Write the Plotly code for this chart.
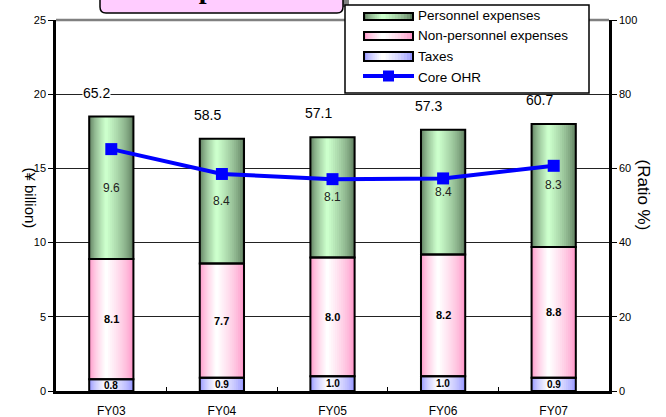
import numpy as np
import plotly.graph_objects as go

# ---------------- data ----------------
categories = ["FY03", "FY04", "FY05", "FY06", "FY07"]
taxes = [0.8, 0.9, 1.0, 1.0, 0.9]
non_personnel = [8.1, 7.7, 8.0, 8.2, 8.8]
personnel = [9.6, 8.4, 8.1, 8.4, 8.3]
core_ohr = [65.2, 58.5, 57.1, 57.3, 60.7]
ohr_labels = ["65.2", "58.5", "57.1", "57.3", "60.7"]
legend_labels = ["Personnel expenses", "Non-personnel expenses", "Taxes", "Core OHR"]

W, H = 666, 417
L, R, T, B = 56, 57, 20, 26
PW, PH = W - L - R, H - T - B
FONT = "Arial, Liberation Sans, sans-serif"


def px(x):
    return (x - L) / PW


def py(y):
    return (H - B - y) / PH


def mix(c1, c2, f):
    return "rgb(%d,%d,%d)" % tuple(round(a + (b - a) * f) for a, b in zip(c1, c2))


tx = np.array(taxes)
npers = np.array(non_personnel)
pers = np.array(personnel)
base_np = tx
base_p = tx + npers
totals = tx + npers + pers

segments = [
    # values, base, edge colour, centre colour, label font
    (tx, np.zeros_like(tx), (150, 150, 255), (255, 255, 255), dict(size=10, color="black", family=FONT, weight="bold")),
    (npers, base_np, (255, 150, 200), (255, 255, 255), dict(size=11, color="black", family=FONT, weight="bold")),
    (pers, base_p, (95, 125, 95), (204, 255, 204), dict(size=12, color="#222", family=FONT)),
]

fig = go.Figure()
BW = 0.40
N = 14
for vals, base, edge, centre, tf in segments:
    for k in range(N):
        frac = k / N
        w = BW * (1 - frac)
        off = -BW / 2 + 0.38 * BW * frac
        col = mix(edge, centre, (frac / (1 - 1 / N)) ** 0.7 if k else 0)
        fig.add_trace(go.Bar(
            x=categories, y=vals, base=base, width=w, offset=off,
            marker=dict(color=col, line=dict(width=0)),
            showlegend=False, hoverinfo="skip",
        ))

for vals, base, edge, centre, tf in segments:
    fig.add_trace(go.Bar(
        x=categories, y=vals, base=base, width=BW, offset=-BW / 2,
        marker=dict(color="rgba(0,0,0,0)", line=dict(width=2, color="black")),
        showlegend=False, hoverinfo="skip",
    ))

fig.add_trace(go.Scatter(
    x=categories, y=core_ohr, yaxis="y2", mode="lines+markers",
    line=dict(color="#0000FF", width=4),
    marker=dict(symbol="square", size=12, color="#0000FF"),
    showlegend=False,
))

shapes = []
annotations = []

# segment value labels
for vals, base, edge, centre, tf in segments:
    for i, (v, b) in enumerate(zip(vals, base)):
        annotations.append(dict(x=i, y=b + v / 2, xref="x", yref="y", text="%.1f" % v,
                                showarrow=False, font=tf, yanchor="middle"))

# top frame line
shapes.append(dict(type="line", xref="paper", yref="paper", x0=0, x1=1, y0=1, y1=1,
                   line=dict(color="#808080", width=2.5)))

# OHR value labels
for i, (lab, tot) in enumerate(zip(ohr_labels, totals)):
    annotations.append(dict(x=i - 0.13, y=tot + 1.6, xref="x", yref="y", text=lab,
                            showarrow=False, font=dict(size=14, color="black", family=FONT),
                            bgcolor="white" if i == 0 else "rgba(0,0,0,0)", borderpad=0))

# title box (cut off at top)
shapes.append(dict(type="rect", xref="paper", yref="paper", layer="above",
                   x0=px(106), x1=px(349), y0=py(7), y1=py(-30),
                   fillcolor="#808080", line=dict(width=0)))
r = 6
x0, x1, y0, y1 = 100, 343, -30, 13
path = ("M %f,%f L %f,%f Q %f,%f %f,%f L %f,%f Q %f,%f %f,%f L %f,%f Z" % (
    px(x0), py(y0), px(x0), py(y1 - r), px(x0), py(y1), px(x0 + r), py(y1),
    px(x1 - r), py(y1), px(x1), py(y1), px(x1), py(y1 - r), px(x1), py(y0)))
shapes.append(dict(type="path", xref="paper", yref="paper", layer="above", path=path,
                   fillcolor="#FFCCFF", line=dict(color="black", width=1.5)))
annotations.append(dict(x=px(221), y=py(6), xref="paper", yref="paper", text="<b>Expenses</b>",
                        xanchor="center", yanchor="bottom", showarrow=False,
                        font=dict(size=28, color="black", family="Times New Roman, Liberation Serif, serif")))

# legend box
shapes.append(dict(type="rect", xref="paper", yref="paper", layer="above",
                   x0=px(345), x1=px(589), y0=py(93), y1=py(5),
                   fillcolor="white", line=dict(color="black", width=1.5)))
sw = [(13, 20, (95, 125, 95), (204, 255, 204)),
      (32, 40, (255, 150, 200), (255, 255, 255)),
      (52, 61, (150, 150, 255), (255, 255, 255))]
SX0, SX1 = 364, 413
NS = 10
for yt, yb, edge, centre in sw:
    for k in range(NS):
        frac = k / NS
        w = (SX1 - SX0) * (1 - frac)
        a = SX0 + 0.38 * (SX1 - SX0) * frac
        col = mix(edge, centre, (frac / (1 - 1 / NS)) ** 0.7 if k else 0)
        shapes.append(dict(type="rect", xref="paper", yref="paper", layer="above",
                           x0=px(a), x1=px(a + w), y0=py(yb), y1=py(yt),
                           fillcolor=col, line=dict(width=0)))
    shapes.append(dict(type="rect", xref="paper", yref="paper", layer="above",
                       x0=px(SX0), x1=px(SX1), y0=py(yb), y1=py(yt),
                       fillcolor="rgba(0,0,0,0)", line=dict(color="black", width=2)))
shapes.append(dict(type="line", xref="paper", yref="paper", layer="above",
                   x0=px(SX0 - 1), x1=px(SX1 + 1), y0=py(76), y1=py(76),
                   line=dict(color="#0000FF", width=4)))
shapes.append(dict(type="rect", xref="paper", yref="paper", layer="above",
                   x0=px(383), x1=px(394), y0=py(81.5), y1=py(70.5),
                   fillcolor="#0000FF", line=dict(width=0)))
for lab, yc in zip(legend_labels, [15, 35, 57, 77]):
    annotations.append(dict(x=px(416), y=py(yc), xref="paper", yref="paper", text=lab,
                            xanchor="left", yanchor="middle", showarrow=False,
                            font=dict(size=13.5, color="black", family=FONT)))

# axis titles
annotations.append(dict(x=px(20), y=py(198), xref="paper", yref="paper", text="(¥ billion)",
                        textangle=90, showarrow=False,
                        font=dict(size=15, color="black", family=FONT)))
annotations.append(dict(x=px(655), y=py(195), xref="paper", yref="paper", text="(Ratio %)",
                        textangle=90, showarrow=False,
                        font=dict(size=17, color="black", family=FONT)))

fig.update_layout(
    width=W, height=H,
    margin=dict(l=L, r=R, t=T, b=B, pad=0, autoexpand=False),
    paper_bgcolor="white", plot_bgcolor="white",
    barmode="overlay", showlegend=False,
    font=dict(family=FONT, color="black"),
    xaxis=dict(type="category", categoryorder="array", categoryarray=categories,
               range=[-0.5, 4.5], showline=True, linecolor="black", linewidth=2.5,
               ticks="inside", tickson="boundaries", ticklen=4, tickcolor="black",
               ticklabelstandoff=7, automargin=False,
               tickfont=dict(size=12, color="black", family=FONT), showgrid=False,
               zeroline=False),
    yaxis=dict(range=[0, 25], dtick=5, showline=True, linecolor="black", linewidth=2.5,
               ticks="outside", ticklen=5, tickcolor="black", automargin=False,
               tickfont=dict(size=11, color="black", family=FONT),
               showgrid=True, gridcolor="#222", gridwidth=1, zeroline=False),
    yaxis2=dict(range=[0, 100], dtick=20, overlaying="y", side="right", showline=True,
                linecolor="black", linewidth=2.5, ticks="outside", ticklen=5,
                tickcolor="black", automargin=False,
                tickfont=dict(size=11, color="black", family=FONT),
                showgrid=False, zeroline=False),
    shapes=shapes, annotations=annotations,
)

fig.write_html("out.html")
